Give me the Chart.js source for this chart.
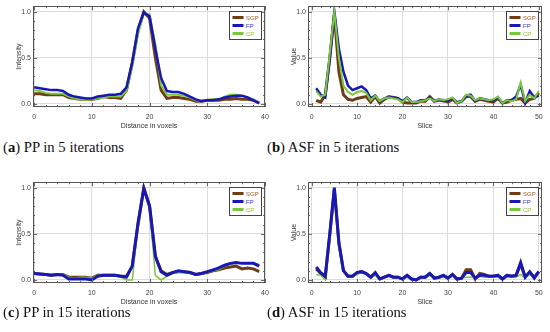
<!DOCTYPE html>
<html>
<head>
<meta charset="utf-8">
<script src="https://cdn.jsdelivr.net/npm/chart.js@4/dist/chart.umd.min.js"></script>
<style>
body { margin:0; background:#fff; width:550px; height:332px; position:relative; overflow:hidden; }
canvas { position:absolute; }
.cap { position:absolute; font-family:"Liberation Serif", "DejaVu Serif", serif; font-size:14.7px; color:#111; white-space:nowrap; }
</style>
</head>
<body>
<canvas id="chartA" width="275" height="130" style="left:0;top:0"></canvas>
<canvas id="chartB" width="275" height="130" style="left:275px;top:0"></canvas>
<canvas id="chartC" width="275" height="130" style="left:0;top:176px"></canvas>
<canvas id="chartD" width="275" height="130" style="left:275px;top:176px"></canvas>
<div class="cap" style="left:3px;top:139px">(<b>a</b>) PP in 5 iterations</div>
<div class="cap" style="left:267px;top:139px">(<b>b</b>) ASF in 5 iterations</div>
<div class="cap" style="left:3px;top:304px">(<b>c</b>) PP in 15 iterations</div>
<div class="cap" style="left:267px;top:304px">(<b>d</b>) ASF in 15 iterations</div>
<script>
// series names + colours
const seriesNames = ['SGP', 'FP', 'CP'];
const seriesColors = ['#6e3c16', '#1818b8', '#78c83c'];
const legendText = ['#9a5a30', '#3a30c0', '#8ec040'];

// x positions
const voxels = [0,1,2,3,4,5,6,7,8,9,10,11,12,13,14,15,16,17,18,19,20,21,22,23,24,25,26,27,28,29,30,31,32,33,34,35,36,37,38,39];
const slices = [1,2,3,4,5,6,7,8,9,10,11,12,13,14,15,16,17,18,19,20,21,22,23,24,25,26,27,28,29,30,31,32,33,34,35,36,37,38,39,40,41,42,43,44,45,46,47,48,49,50];

// tick labels
const voxelTicks = [0, 10, 20, 30, 40];
const sliceTicks = [0, 10, 20, 30, 40, 50];
const valueTicks = [0, 0.5, 1];

// (a) PP, 5 iterations
const ppSGP5 = [0.11,0.11,0.10,0.10,0.10,0.10,0.07,0.06,0.05,0.05,0.05,0.06,0.08,0.07,0.07,0.06,0.15,0.45,0.80,1.00,0.93,0.50,0.15,0.06,0.07,0.07,0.06,0.05,0.03,0.03,0.04,0.04,0.04,0.05,0.05,0.06,0.05,0.05,0.04,0.01];
const ppFP5  = [0.18,0.17,0.16,0.15,0.15,0.14,0.10,0.08,0.07,0.06,0.06,0.08,0.09,0.10,0.10,0.11,0.18,0.45,0.82,0.99,0.95,0.60,0.28,0.14,0.13,0.13,0.11,0.08,0.05,0.03,0.04,0.04,0.05,0.07,0.08,0.09,0.09,0.07,0.04,0.01];
const ppCP5  = [0.15,0.14,0.12,0.11,0.11,0.11,0.08,0.06,0.05,0.04,0.05,0.06,0.07,0.08,0.08,0.08,0.14,0.40,0.76,0.98,0.97,0.65,0.20,0.10,0.10,0.10,0.09,0.07,0.04,0.03,0.04,0.05,0.05,0.08,0.10,0.10,0.09,0.07,0.05,0.01];

// (b) ASF, 5 iterations
const asfSGP5 = [0.04,0.02,0.10,0.50,0.97,0.35,0.10,0.05,0.04,0.06,0.07,0.08,0.02,0.08,0.01,0.05,0.08,0.07,0.06,0.02,0.01,0.01,0.01,0.03,0.03,0.08,0.03,0.04,0.04,0.02,0.05,0.01,0.03,0.08,0.08,0.03,0.05,0.04,0.03,0.02,0.06,0.01,0.02,0.04,0.05,0.06,0.01,0.05,0.06,0.12];
const asfFP5  = [0.17,0.10,0.07,0.50,1.00,0.60,0.35,0.20,0.15,0.17,0.19,0.15,0.06,0.09,0.03,0.06,0.07,0.07,0.06,0.03,0.07,0.02,0.02,0.04,0.04,0.07,0.03,0.05,0.03,0.04,0.06,0.02,0.03,0.09,0.10,0.03,0.06,0.05,0.04,0.04,0.07,0.01,0.04,0.04,0.08,0.21,0.01,0.14,0.07,0.09];
const asfCP5  = [0.14,0.08,0.10,0.55,1.00,0.50,0.20,0.13,0.10,0.13,0.14,0.12,0.04,0.09,0.03,0.06,0.07,0.06,0.05,0.02,0.07,0.02,0.02,0.03,0.04,0.06,0.03,0.05,0.04,0.05,0.07,0.01,0.03,0.10,0.09,0.04,0.06,0.05,0.04,0.05,0.08,0.01,0.04,0.03,0.05,0.23,0.03,0.10,0.06,0.14];

// (c) PP, 15 iterations
const ppSGP15 = [0.07,0.065,0.06,0.05,0.06,0.06,0.03,0.03,0.03,0.03,0.02,0.05,0.05,0.05,0.05,0.04,0.04,0.15,0.60,1.00,0.80,0.25,0.10,0.06,0.08,0.09,0.09,0.08,0.06,0.07,0.08,0.10,0.11,0.13,0.14,0.15,0.12,0.13,0.12,0.09];
const ppFP15  = [0.07,0.065,0.06,0.05,0.06,0.05,0.01,0.01,0.01,0.01,0.00,0.04,0.05,0.05,0.05,0.04,0.03,0.15,0.62,0.99,0.80,0.26,0.09,0.05,0.08,0.10,0.09,0.08,0.06,0.07,0.09,0.11,0.13,0.16,0.18,0.19,0.18,0.18,0.18,0.15];
const ppCP15  = [0.07,0.06,0.06,0.06,0.06,0.06,0.03,0.02,0.03,0.03,0.02,0.05,0.05,0.05,0.05,0.03,0.00,0.00,0.60,1.00,0.78,0.05,0.00,0.04,0.07,0.08,0.08,0.08,0.06,0.07,0.08,0.10,0.11,0.15,0.17,0.18,0.18,0.18,0.18,0.17];

// (d) ASF, 15 iterations
const asfSGP15 = [0.12,0.07,0.03,0.50,0.98,0.40,0.10,0.04,0.04,0.08,0.09,0.07,0.03,0.07,0.01,0.03,0.05,0.03,0.03,0.01,0.05,0.01,0.00,0.03,0.03,0.07,0.02,0.03,0.05,0.02,0.06,0.01,0.02,0.11,0.11,0.01,0.07,0.06,0.04,0.04,0.05,0.01,0.05,0.04,0.05,0.17,0.03,0.08,0.03,0.09];
const asfFP15  = [0.14,0.08,0.04,0.50,1.00,0.40,0.10,0.04,0.04,0.08,0.09,0.07,0.03,0.08,0.01,0.03,0.05,0.03,0.03,0.01,0.05,0.01,0.00,0.03,0.03,0.07,0.02,0.03,0.05,0.02,0.06,0.01,0.02,0.08,0.08,0.02,0.05,0.05,0.04,0.04,0.05,0.01,0.05,0.04,0.05,0.19,0.03,0.09,0.02,0.09];
const asfCP15  = [0.06,0.05,0.00,0.45,0.95,0.35,0.09,0.04,0.03,0.06,0.08,0.06,0.03,0.05,0.02,0.03,0.04,0.03,0.02,0.01,0.03,0.01,0.00,0.02,0.02,0.05,0.02,0.02,0.03,0.02,0.04,0.01,0.02,0.03,0.03,0.03,0.04,0.03,0.03,0.03,0.03,0.01,0.03,0.03,0.03,0.06,0.02,0.06,0.03,0.08];

const tickFont = {family: 'Liberation Sans', size: 7};

// frame with inner ticks and boxed legend, Mathematica style
const framePlugin = {
  id: 'frame',
  afterDatasetsDraw(chart, args, opts) {
    const {ctx, chartArea: a, scales: {x, y}} = chart;
    ctx.save();
    ctx.strokeStyle = '#666';
    ctx.lineWidth = 1;
    // minor / major ticks on all sides
    for (let v = 0; v <= opts.xEnd + 1e-9; v += opts.xMinor) {
      const px = Math.round(x.getPixelForValue(v)) + 0.5;
      const len = Math.abs(v % 10) < 1e-9 ? 4 : 2;
      ctx.beginPath();
      ctx.moveTo(px, a.bottom); ctx.lineTo(px, a.bottom - len);
      ctx.moveTo(px, a.top); ctx.lineTo(px, a.top + len);
      ctx.stroke();
    }
    for (let i = 0; i <= 10; i++) {
      const py = Math.round(y.getPixelForValue(i / 10)) + 0.5;
      const len = i % 5 === 0 ? 4 : 2;
      ctx.beginPath();
      ctx.moveTo(a.left, py); ctx.lineTo(a.left + len, py);
      ctx.moveTo(a.right, py); ctx.lineTo(a.right - len, py);
      ctx.stroke();
    }
    ctx.strokeStyle = '#555';
    ctx.strokeRect(Math.round(a.left) + 0.5, Math.round(a.top) + 0.5, Math.round(a.width) - 1, Math.round(a.height) - 1);

    // legend
    const bx = Math.round(a.right - 36) + 0.5, by = Math.round(a.top + 5) + 0.5;
    ctx.fillStyle = '#fff';
    ctx.fillRect(bx, by, 32, 28);
    ctx.strokeStyle = '#444';
    ctx.strokeRect(bx, by, 32, 28);
    ctx.font = '6px "Liberation Sans"';
    ctx.textBaseline = 'middle';
    chart.data.datasets.forEach((ds, i) => {
      const ly = by + 6 + i * 8;
      ctx.strokeStyle = ds.borderColor;
      ctx.lineWidth = 3;
      ctx.beginPath();
      ctx.moveTo(bx + 3, ly); ctx.lineTo(bx + 14, ly);
      ctx.stroke();
      ctx.fillStyle = legendText[i];
      ctx.fillText(ds.label, bx + 16.5, ly + 0.5);
    });
    ctx.restore();
  }
};

function makeChart(id, xs, ys, xTicks, xMin, xMax, xTitle, yTitle, rightPad, widths, order) {
  const datasets = ys.map((vals, i) => ({
    label: seriesNames[i],
    data: xs.map((xv, j) => ({x: xv, y: vals[j]})),
    borderColor: seriesColors[i],
    borderWidth: widths[i],
    pointRadius: 0,
    tension: 0,
    order: order[i]
  }));
  new Chart(document.getElementById(id), {
    type: 'line',
    data: {datasets},
    plugins: [framePlugin],
    options: {
      responsive: false,
      animation: false,
      layout: {padding: {top: 5, right: rightPad, left: 0, bottom: 0}},
      plugins: {
        legend: {display: false},
        tooltip: {enabled: false},
        frame: {xMinor: 2, xEnd: xTicks[xTicks.length - 1]}
      },
      scales: {
        x: {
          type: 'linear', min: xMin, max: xMax,
          afterBuildTicks: s => { s.ticks = xTicks.map(v => ({value: v})); },
          afterFit: s => { s.height = 23; },
          grid: {color: '#dcdcdc', drawTicks: false},
          border: {display: false},
          ticks: {font: tickFont, color: '#444', padding: 6, maxRotation: 0, callback: v => String(v)},
          title: {display: true, text: xTitle, font: tickFont, color: '#333', padding: {top: 0, bottom: 0}}
        },
        y: {
          type: 'linear', min: -0.033, max: 1.06,
          afterBuildTicks: s => { s.ticks = valueTicks.map(v => ({value: v})); },
          afterFit: s => { s.width = 33; },
          grid: {color: '#dcdcdc', drawTicks: false},
          border: {display: false},
          ticks: {font: tickFont, color: '#444', padding: 2, callback: v => v.toFixed(1)},
          title: {display: true, text: yTitle, font: tickFont, color: '#333', padding: {top: 15, bottom: 0}}
        }
      }
    }
  });
}

makeChart('chartA', voxels, [ppSGP5, ppFP5, ppCP5], voxelTicks, -0.2, 40, 'Distance in voxels', 'Intensity', 10, [3, 2.5, 2], [2, 0, 1]);
makeChart('chartB', slices, [asfSGP5, asfFP5, asfCP5], sliceTicks, -0.8, 50.7, 'Slice', 'Value', 8, [3, 2.5, 2], [2, 1, 0]);
makeChart('chartC', voxels, [ppSGP15, ppFP15, ppCP15], voxelTicks, -0.2, 40, 'Distance in voxels', 'Intensity', 10, [3, 3, 1.5], [2, 0, 1]);
makeChart('chartD', slices, [asfSGP15, asfFP15, asfCP15], sliceTicks, -0.8, 50.7, 'Slice', 'Value', 8, [3, 3, 1.5], [2, 0, 1]);
</script>
</body>
</html>
